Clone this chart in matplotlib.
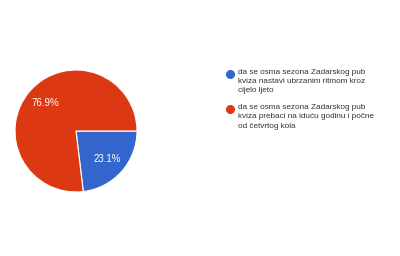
import matplotlib
matplotlib.use("Agg")
import matplotlib.pyplot as plt
from matplotlib.lines import Line2D

labels = [
    "da se osma sezona Zadarskog pub\nkviza nastavi ubrzanim ritmom kroz\ncijelo ljeto",
    "da se osma sezona Zadarskog pub\nkviza prebaci na iduću godinu i počne\nod četvrtog kola",
]
values = [23.1, 76.9]
colors = ["#3366cc", "#dc3912"]

plt.rcParams['font.family'] = ['Arial', 'Liberation Sans', 'DejaVu Sans']

fig = plt.figure(figsize=(4, 2.56), dpi=100, facecolor="white")
ax = fig.add_axes([15 / 400, 64 / 256, 122 / 400, 122 / 256])
wedges, texts, autotexts = ax.pie(
    values, colors=colors, startangle=0, counterclock=False,
    autopct="%.1f%%", pctdistance=0.68,
    wedgeprops=dict(edgecolor="white", linewidth=0.8),
    textprops=dict(color="white", fontsize=7),
)
ax.set_xlim(-1.0, 1.0)
ax.set_ylim(-1.0, 1.0)
ax.set_aspect("equal")

# legend
leg_y = [74, 109]
for lab, c, y in zip(labels, colors, leg_y):
    fy = 1 - y / 256
    fig.add_artist(Line2D([230 / 400], [fy], marker="o", markersize=5.5,
                          color=c, linestyle="none", transform=fig.transFigure))
    fig.text(238 / 400, fy + 5 / 256, lab, fontsize=5.9, color="#333333",
             va="top", ha="left", linespacing=1.45)

fig.savefig("out.png", dpi=100, facecolor="white")
